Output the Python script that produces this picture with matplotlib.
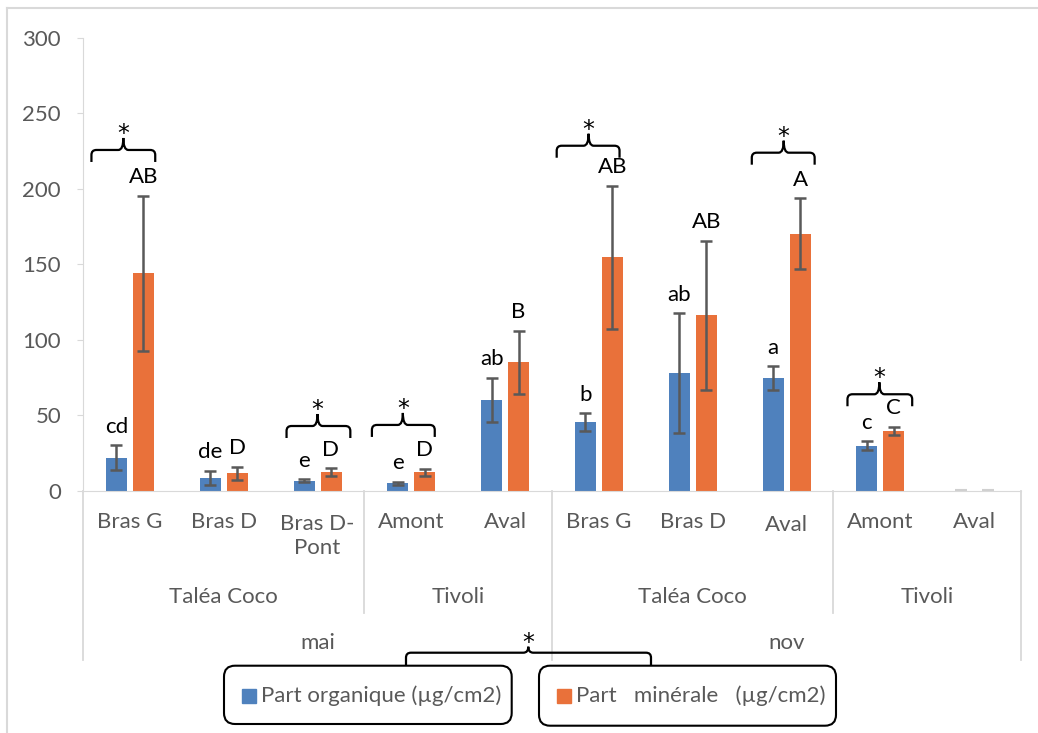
import numpy as np
import matplotlib.pyplot as plt
from matplotlib.path import Path
from matplotlib.patches import PathPatch, FancyBboxPatch, Rectangle
from matplotlib.lines import Line2D
from matplotlib.transforms import IdentityTransform

plt.rcParams['font.family'] = ['Lato', 'DejaVu Sans']

# Donnees
sous_cat = ["Bras G", "Bras D", "Bras D-\nPont", "Amont", "Aval",
            "Bras G", "Bras D", "Aval", "Amont", "Aval"]
sites = ["Taléa Coco", "Tivoli", "Taléa Coco", "Tivoli"]
sites_bornes = [(0, 3), (3, 5), (5, 8), (8, 10)]
mois = ["mai", "nov"]
mois_bornes = [(0, 5), (5, 10)]

organique = [22, 8.8, 6.8, 5.1, 60.2, 45.5, 78, 74.6, 29.8, 0]
organique_err = [8.3, 4.7, 1, 1, 14.7, 6, 39.7, 7.8, 3, 0]
minerale = [144, 11.7, 12.4, 12.4, 85.1, 154.6, 116.2, 170.2, 39.9, 0]
minerale_err = [51.3, 4.3, 2.8, 2.2, 21, 47.2, 49.4, 23.4, 2.6, 0]

lettres_org = ["cd", "de", "e", "e", "ab", "b", "ab", "a", "c", ""]
lettres_min = ["AB", "D", "D", "D", "B", "AB", "AB", "A", "C", ""]

# accolades : (gauche, droite, milieu, hauteur)
accolades = [(0.09, 0.77, 0.43, 225.6),
             (2.17, 2.85, 2.50, 43),
             (3.08, 3.75, 3.41, 43.7),
             (5.05, 5.72, 5.39, 228.4),
             (7.13, 7.80, 7.47, 223.8),
             (8.15, 8.84, 8.49, 64)]

bleu = '#4f81bd'
orange = '#e9713a'
gris = '#595959'
gris_clair = '#d9d9d9'
taille = 16

W, H = 1038, 733
fig = plt.figure(figsize=(W / 100, H / 100), dpi=100)
ax = fig.add_axes([83 / W, 1 - 491 / H, (1021 - 83) / W, (491 - 37.5) / H])

x = np.arange(len(sous_cat)) + 0.5
larg = 21 / 93.8
dec = 13.5 / 93.8

ax.bar(x - dec, organique, larg, color=bleu)
ax.bar(x + dec, minerale, larg, color=orange)
ax.errorbar(x[:9] - dec, organique[:9], yerr=organique_err[:9], fmt='none',
            ecolor=gris, elinewidth=1.8, capsize=4.2, capthick=1.8)
ax.errorbar(x[:9] + dec, minerale[:9], yerr=minerale_err[:9], fmt='none',
            ecolor=gris, elinewidth=1.8, capsize=4.2, capthick=1.8)
ax.errorbar([x[9] - dec, x[9] + dec], [organique[9], minerale[9]], yerr=[0.4, 0.4],
            fmt='none', ecolor='#d0d0d0', elinewidth=1, capsize=4.2, capthick=1.5)

ax.set_xlim(0, len(sous_cat))
ax.set_ylim(0, 300)
ax.set_yticks(np.arange(0, 301, 50))
ax.set_xticks([])
ax.tick_params(axis='y', length=4.3, color=gris_clair, labelcolor=gris,
               labelsize=taille, pad=11.5)
for s in ['top', 'right']:
    ax.spines[s].set_visible(False)
ax.spines['left'].set_color(gris_clair)
ax.spines['bottom'].set_color(gris_clair)

# lettres de significativite
for i in range(len(sous_cat)):
    if lettres_org[i]:
        ax.annotate(lettres_org[i], (x[i] - dec, organique[i] + organique_err[i]),
                    xytext=(0, 9), textcoords='offset points',
                    ha='center', va='baseline', fontsize=taille, color='black')
    if lettres_min[i]:
        ax.annotate(lettres_min[i], (x[i] + dec, minerale[i] + minerale_err[i]),
                    xytext=(0, 9), textcoords='offset points',
                    ha='center', va='baseline', fontsize=taille, color='black')

# axe multi-niveaux
tr = ax.get_xaxis_transform()
ah = 491 - 37.5


def ypx(py):
    return (491 - py) / ah


for i, lab in enumerate(sous_cat):
    n = lab.count("\n")
    dy = 3 if (i == 7) else 0
    ax.text(x[i], ypx(521.7 + n * 14.2 + dy), lab, transform=tr, ha='center',
            va='center', fontsize=taille, color=gris, linespacing=1.3)
for nom, (a, b) in zip(sites, sites_bornes):
    ax.text((a + b) / 2, ypx(596.7), nom, transform=tr, ha='center', va='center',
            fontsize=taille, color=gris)
for nom, (a, b) in zip(mois, mois_bornes):
    ax.text((a + b) / 2, ypx(643.3), nom, transform=tr, ha='center', va='center',
            fontsize=taille, color=gris)
for xs in [0, 5, 10]:
    ax.add_line(Line2D([xs, xs], [0, ypx(660)], transform=tr, color=gris_clair,
                       lw=1.3, clip_on=False))
for xs in [3, 8]:
    ax.add_line(Line2D([xs, xs], [0, ypx(613)], transform=tr, color=gris_clair,
                       lw=1.3, clip_on=False))

# cadre du graphique
fig.add_artist(Line2D([7 / W, 7 / W], [0, 1 - 8 / H], color=gris_clair, lw=1.5))
fig.add_artist(Line2D([7 / W, 1], [1 - 8 / H, 1 - 8 / H], color=gris_clair, lw=1.5))


def accolade(x0, x1, xm, y, drop=12, rise=12, r=5):
    # coordonnees en pixels (y vers le haut)
    verts = [(x0, y - drop), (x0, y - r), (x0, y), (x0 + r, y),
             (xm - r, y), (xm, y), (xm, y + rise),
             (xm, y), (xm + r, y),
             (x1 - r, y), (x1, y), (x1, y - r), (x1, y - drop)]
    codes = [Path.MOVETO, Path.LINETO, Path.CURVE3, Path.CURVE3,
             Path.LINETO, Path.CURVE3, Path.CURVE3,
             Path.CURVE3, Path.CURVE3,
             Path.LINETO, Path.CURVE3, Path.CURVE3, Path.LINETO]
    p = PathPatch(Path(verts, codes), fill=False, lw=1.6, color='black',
                  transform=IdentityTransform(), capstyle='butt')
    fig.add_artist(p)
    fig.text(xm, y + rise - 3, "*", transform=IdentityTransform(), ha='center',
             va='baseline', fontsize=17, color='black', family='DejaVu Sans')


for (g, d, m, h) in accolades:
    (px0, py), = ax.transData.transform([(g, h)])
    (px1, _), = ax.transData.transform([(d, h)])
    (pxm, _), = ax.transData.transform([(m, h)])
    accolade(px0, px1, pxm, py)

# legende
boites = [(224, 665.7, 511.7, 724, bleu, "Part organique (µg/cm2)"),
          (539, 665.7, 836, 725.7, orange, "Part   minérale   (µg/cm2)")]
for (bx0, by0, bx1, by1, c, txt) in boites:
    fig.add_artist(FancyBboxPatch((bx0, H - by1), bx1 - bx0, by1 - by0,
                                  boxstyle="round,pad=0,rounding_size=11",
                                  fill=False, ec='black', lw=1.5,
                                  transform=IdentityTransform()))
    fig.add_artist(Rectangle((bx0 + 18, H - 702.8), 13.7, 13.7, color=c,
                             transform=IdentityTransform()))
    fig.text(bx0 + 37, H - 696, txt, transform=IdentityTransform(), ha='left',
             va='center', fontsize=taille, color=gris)

accolade(406, 651, 528.3, H - 652.7, drop=12.3, rise=6)

fig.savefig("out.png", dpi=100)
